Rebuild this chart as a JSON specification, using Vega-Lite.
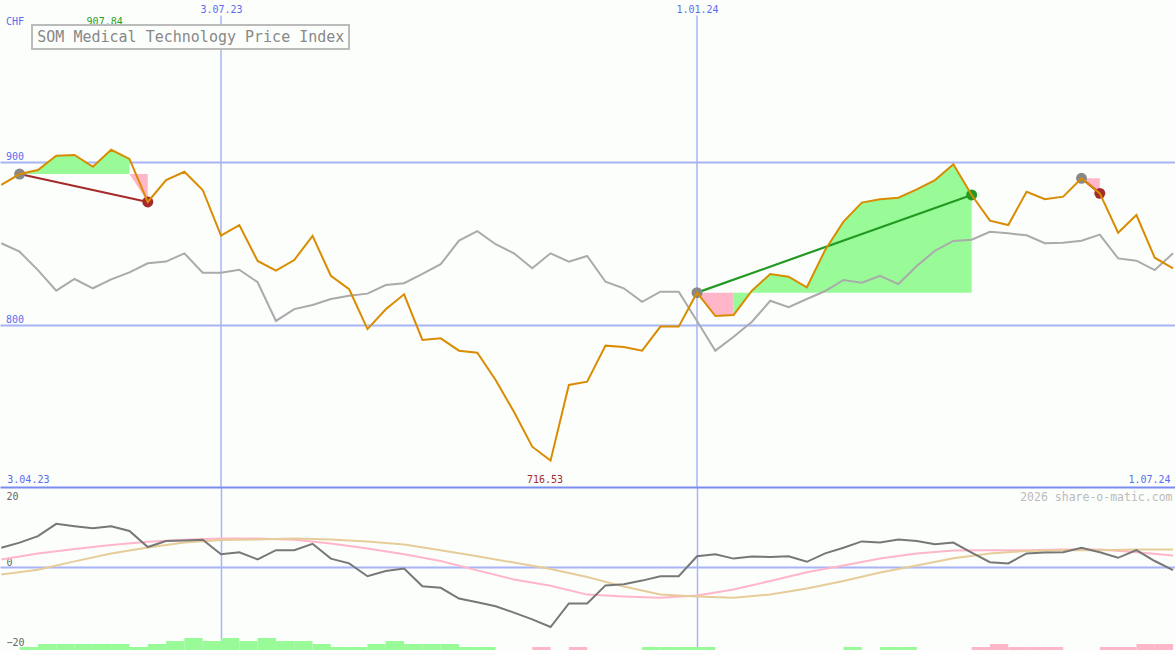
{
  "$schema": "https://vega.github.io/schema/vega-lite/v6.json",
  "autosize": {"type": "pad"},
  "padding": {"left": -3, "top": 0, "right": 0, "bottom": 0},
  "background": "#fcfefc",
  "spacing": 0,
  "bounds": "flush",
  "config": {
    "view": {"stroke": null},
    "axis": {"labelFont": "DejaVu Sans Mono", "titleFont": "DejaVu Sans Mono"},
    "text": {"font": "DejaVu Sans Mono"}
  },
  "datasets": {
    "w": [
      {"d": "2023-04-10", "p": 886.2, "c": 850.3, "o": 4.8},
      {"d": "2023-04-17", "p": 892.9, "c": 845.1, "o": 6.1},
      {"d": "2023-04-24", "p": 895.4, "c": 833.8, "o": 7.7},
      {"d": "2023-05-01", "p": 904.2, "c": 821.1, "o": 10.8},
      {"d": "2023-05-08", "p": 904.6, "c": 828.3, "o": 10.2},
      {"d": "2023-05-15", "p": 897.4, "c": 822.6, "o": 9.7},
      {"d": "2023-05-22", "p": 907.84, "c": 828.1, "o": 10.2},
      {"d": "2023-05-29", "p": 902.2, "c": 832.4, "o": 9.0},
      {"d": "2023-06-05", "p": 875.7, "c": 838.0, "o": 5.0},
      {"d": "2023-06-12", "p": 889.2, "c": 839.0, "o": 6.5},
      {"d": "2023-06-19", "p": 894.3, "c": 844.1, "o": 6.6},
      {"d": "2023-06-26", "p": 883.1, "c": 832.2, "o": 6.8},
      {"d": "2023-07-03", "p": 855.0, "c": 832.2, "o": 3.2},
      {"d": "2023-07-10", "p": 861.5, "c": 834.0, "o": 3.7},
      {"d": "2023-07-17", "p": 839.4, "c": 826.3, "o": 1.9},
      {"d": "2023-07-24", "p": 833.4, "c": 802.5, "o": 4.2},
      {"d": "2023-07-31", "p": 840.0, "c": 809.8, "o": 4.2},
      {"d": "2023-08-07", "p": 854.8, "c": 812.3, "o": 5.8},
      {"d": "2023-08-14", "p": 830.3, "c": 816.0, "o": 2.1},
      {"d": "2023-08-21", "p": 822.0, "c": 818.0, "o": 0.9},
      {"d": "2023-08-28", "p": 797.5, "c": 819.3, "o": -2.3},
      {"d": "2023-09-04", "p": 809.7, "c": 824.6, "o": -1.0},
      {"d": "2023-09-11", "p": 818.9, "c": 825.7, "o": -0.4},
      {"d": "2023-09-18", "p": 790.8, "c": 831.4, "o": -4.8},
      {"d": "2023-09-25", "p": 791.8, "c": 837.4, "o": -5.2},
      {"d": "2023-10-02", "p": 784.2, "c": 851.9, "o": -7.9},
      {"d": "2023-10-09", "p": 782.9, "c": 857.8, "o": -8.8},
      {"d": "2023-10-16", "p": 766.2, "c": 849.7, "o": -9.8},
      {"d": "2023-10-23", "p": 746.6, "c": 844.1, "o": -11.4},
      {"d": "2023-10-30", "p": 725.1, "c": 834.9, "o": -13.1},
      {"d": "2023-11-06", "p": 716.53, "c": 844.1, "o": -15.0},
      {"d": "2023-11-13", "p": 763.1, "c": 839.0, "o": -9.1},
      {"d": "2023-11-20", "p": 765.1, "c": 842.5, "o": -9.1},
      {"d": "2023-11-27", "p": 787.3, "c": 826.6, "o": -4.6},
      {"d": "2023-12-04", "p": 786.5, "c": 822.6, "o": -4.3},
      {"d": "2023-12-11", "p": 784.2, "c": 814.3, "o": -3.4},
      {"d": "2023-12-18", "p": 799.0, "c": 820.5, "o": -2.3},
      {"d": "2023-12-25", "p": 799.0, "c": 820.5, "o": -2.3},
      {"d": "2024-01-01", "p": 819.9, "c": 802.5, "o": 2.7},
      {"d": "2024-01-08", "p": 805.5, "c": 784.2, "o": 3.2},
      {"d": "2024-01-15", "p": 806.2, "c": 792.8, "o": 2.1},
      {"d": "2024-01-22", "p": 821.1, "c": 802.0, "o": 2.6},
      {"d": "2024-01-29", "p": 831.4, "c": 814.9, "o": 2.5},
      {"d": "2024-02-05", "p": 829.7, "c": 810.9, "o": 2.7},
      {"d": "2024-02-12", "p": 823.2, "c": 816.0, "o": 1.3},
      {"d": "2024-02-19", "p": 846.2, "c": 820.9, "o": 3.4},
      {"d": "2024-02-26", "p": 863.6, "c": 827.7, "o": 4.8},
      {"d": "2024-03-04", "p": 875.3, "c": 826.0, "o": 6.4},
      {"d": "2024-03-11", "p": 877.4, "c": 830.2, "o": 6.1},
      {"d": "2024-03-18", "p": 878.3, "c": 825.2, "o": 6.9},
      {"d": "2024-03-25", "p": 883.5, "c": 836.3, "o": 6.5},
      {"d": "2024-04-01", "p": 889.2, "c": 845.7, "o": 5.7},
      {"d": "2024-04-08", "p": 898.9, "c": 851.7, "o": 6.1},
      {"d": "2024-04-15", "p": 880.0, "c": 852.5, "o": 3.6},
      {"d": "2024-04-22", "p": 864.2, "c": 857.4, "o": 1.2},
      {"d": "2024-04-29", "p": 861.5, "c": 856.4, "o": 0.9},
      {"d": "2024-05-06", "p": 882.0, "c": 855.2, "o": 3.4},
      {"d": "2024-05-13", "p": 877.4, "c": 850.3, "o": 3.6},
      {"d": "2024-05-20", "p": 879.0, "c": 850.6, "o": 3.7},
      {"d": "2024-05-27", "p": 890.3, "c": 851.9, "o": 4.8},
      {"d": "2024-06-03", "p": 881.0, "c": 855.6, "o": 3.7},
      {"d": "2024-06-10", "p": 856.8, "c": 841.0, "o": 2.3},
      {"d": "2024-06-17", "p": 867.7, "c": 839.6, "o": 4.2},
      {"d": "2024-06-24", "p": 841.4, "c": 833.8, "o": 1.5},
      {"d": "2024-07-01", "p": 834.9, "c": 844.1, "o": -0.8}
    ],
    "smooth": [
      {"d": "2023-04-10", "pk": 1.9, "tn": -1.85},
      {"d": "2023-04-24", "pk": 3.4, "tn": -0.7},
      {"d": "2023-05-08", "pk": 4.5, "tn": 1.4},
      {"d": "2023-05-22", "pk": 5.5, "tn": 3.4},
      {"d": "2023-06-05", "pk": 6.3, "tn": 4.9},
      {"d": "2023-06-19", "pk": 6.8, "tn": 6.1},
      {"d": "2023-07-03", "pk": 7.15, "tn": 6.75},
      {"d": "2023-07-17", "pk": 7.1, "tn": 6.9},
      {"d": "2023-07-31", "pk": 6.8, "tn": 7.1},
      {"d": "2023-08-14", "pk": 5.9, "tn": 6.9},
      {"d": "2023-08-28", "pk": 4.6, "tn": 6.4},
      {"d": "2023-09-11", "pk": 3.2, "tn": 5.6},
      {"d": "2023-09-25", "pk": 1.5, "tn": 4.2},
      {"d": "2023-10-09", "pk": -0.85, "tn": 2.7},
      {"d": "2023-10-23", "pk": -3.1, "tn": 1.1},
      {"d": "2023-11-06", "pk": -4.7, "tn": -0.5},
      {"d": "2023-11-20", "pk": -6.9, "tn": -2.5},
      {"d": "2023-12-04", "pk": -7.4, "tn": -4.9},
      {"d": "2023-12-18", "pk": -7.7, "tn": -6.9},
      {"d": "2024-01-01", "pk": -7.1, "tn": -7.4},
      {"d": "2024-01-15", "pk": -5.6, "tn": -7.7},
      {"d": "2024-01-29", "pk": -3.5, "tn": -6.85},
      {"d": "2024-02-12", "pk": -1.3, "tn": -5.4},
      {"d": "2024-02-26", "pk": 0.4, "tn": -3.5},
      {"d": "2024-03-11", "pk": 2.1, "tn": -1.4},
      {"d": "2024-03-25", "pk": 3.4, "tn": 0.4},
      {"d": "2024-04-08", "pk": 4.15, "tn": 2.2},
      {"d": "2024-04-22", "pk": 4.2, "tn": 3.4},
      {"d": "2024-05-06", "pk": 4.2, "tn": 4.0},
      {"d": "2024-05-20", "pk": 4.4, "tn": 4.2},
      {"d": "2024-06-03", "pk": 4.4, "tn": 4.2},
      {"d": "2024-06-17", "pk": 3.7, "tn": 4.4},
      {"d": "2024-07-01", "pk": 2.9, "tn": 4.4}
    ],
    "fills": [
      {"d": "2023-04-17", "p": 892.9, "b": 892.9, "g": "t1a", "k": "gain"},
      {"d": "2023-04-24", "p": 895.4, "b": 892.9, "g": "t1a", "k": "gain"},
      {"d": "2023-05-01", "p": 904.2, "b": 892.9, "g": "t1a", "k": "gain"},
      {"d": "2023-05-08", "p": 904.6, "b": 892.9, "g": "t1a", "k": "gain"},
      {"d": "2023-05-15", "p": 897.4, "b": 892.9, "g": "t1a", "k": "gain"},
      {"d": "2023-05-22", "p": 907.84, "b": 892.9, "g": "t1a", "k": "gain"},
      {"d": "2023-05-29", "p": 902.2, "b": 892.9, "g": "t1a", "k": "gain"},
      {"d": "2023-05-29", "p": 892.9, "b": 892.9, "g": "t1b", "k": "loss"},
      {"d": "2023-06-05", "p": 875.7, "b": 892.9, "g": "t1b", "k": "loss"},
      {"d": "2024-01-01", "p": 819.9, "b": 819.9, "g": "t2a", "k": "loss"},
      {"d": "2024-01-08", "p": 805.5, "b": 819.9, "g": "t2a", "k": "loss"},
      {"d": "2024-01-15", "p": 806.2, "b": 819.9, "g": "t2a", "k": "loss"},
      {"d": "2024-01-15", "p": 806.2, "b": 819.9, "g": "t2b", "k": "gain"},
      {"d": "2024-01-22", "p": 821.1, "b": 819.9, "g": "t2b", "k": "gain"},
      {"d": "2024-01-29", "p": 831.4, "b": 819.9, "g": "t2b", "k": "gain"},
      {"d": "2024-02-05", "p": 829.7, "b": 819.9, "g": "t2b", "k": "gain"},
      {"d": "2024-02-12", "p": 823.2, "b": 819.9, "g": "t2b", "k": "gain"},
      {"d": "2024-02-19", "p": 846.2, "b": 819.9, "g": "t2b", "k": "gain"},
      {"d": "2024-02-26", "p": 863.6, "b": 819.9, "g": "t2b", "k": "gain"},
      {"d": "2024-03-04", "p": 875.3, "b": 819.9, "g": "t2b", "k": "gain"},
      {"d": "2024-03-11", "p": 877.4, "b": 819.9, "g": "t2b", "k": "gain"},
      {"d": "2024-03-18", "p": 878.3, "b": 819.9, "g": "t2b", "k": "gain"},
      {"d": "2024-03-25", "p": 883.5, "b": 819.9, "g": "t2b", "k": "gain"},
      {"d": "2024-04-01", "p": 889.2, "b": 819.9, "g": "t2b", "k": "gain"},
      {"d": "2024-04-08", "p": 898.9, "b": 819.9, "g": "t2b", "k": "gain"},
      {"d": "2024-04-15", "p": 880.0, "b": 819.9, "g": "t2b", "k": "gain"},
      {"d": "2024-05-27", "p": 890.3, "b": 890.3, "g": "t3a", "k": "loss"},
      {"d": "2024-06-03", "p": 881.0, "b": 890.3, "g": "t3a", "k": "loss"}
    ],
    "trades": [
      {"d": "2023-04-17", "p": 892.9, "d2": "2023-06-05", "p2": 875.7, "r": "loss"},
      {"d": "2024-01-01", "p": 819.9, "d2": "2024-04-15", "p2": 880.0, "r": "gain"},
      {"d": "2024-05-27", "p": 890.3, "d2": "2024-06-03", "p2": 881.0, "r": "loss"}
    ],
    "bars": [
      {"d": "2023-04-17", "e": "2023-04-24", "v": 1, "k": "g"},
      {"d": "2023-04-24", "e": "2023-05-01", "v": 2, "k": "g"},
      {"d": "2023-05-01", "e": "2023-05-08", "v": 2, "k": "g"},
      {"d": "2023-05-08", "e": "2023-05-15", "v": 2, "k": "g"},
      {"d": "2023-05-15", "e": "2023-05-22", "v": 2, "k": "g"},
      {"d": "2023-05-22", "e": "2023-05-29", "v": 2, "k": "g"},
      {"d": "2023-05-29", "e": "2023-06-05", "v": 1, "k": "g"},
      {"d": "2023-06-05", "e": "2023-06-12", "v": 2, "k": "g"},
      {"d": "2023-06-12", "e": "2023-06-19", "v": 3, "k": "g"},
      {"d": "2023-06-19", "e": "2023-06-26", "v": 4, "k": "g"},
      {"d": "2023-06-26", "e": "2023-07-03", "v": 3, "k": "g"},
      {"d": "2023-07-03", "e": "2023-07-10", "v": 4, "k": "g"},
      {"d": "2023-07-10", "e": "2023-07-17", "v": 3, "k": "g"},
      {"d": "2023-07-17", "e": "2023-07-24", "v": 4, "k": "g"},
      {"d": "2023-07-24", "e": "2023-07-31", "v": 3, "k": "g"},
      {"d": "2023-07-31", "e": "2023-08-07", "v": 3, "k": "g"},
      {"d": "2023-08-07", "e": "2023-08-14", "v": 2, "k": "g"},
      {"d": "2023-08-14", "e": "2023-08-21", "v": 1, "k": "g"},
      {"d": "2023-08-21", "e": "2023-08-28", "v": 1, "k": "g"},
      {"d": "2023-08-28", "e": "2023-09-04", "v": 2, "k": "g"},
      {"d": "2023-09-04", "e": "2023-09-11", "v": 3, "k": "g"},
      {"d": "2023-09-11", "e": "2023-09-18", "v": 2, "k": "g"},
      {"d": "2023-09-18", "e": "2023-09-25", "v": 2, "k": "g"},
      {"d": "2023-09-25", "e": "2023-10-02", "v": 2, "k": "g"},
      {"d": "2023-10-02", "e": "2023-10-09", "v": 1, "k": "g"},
      {"d": "2023-10-09", "e": "2023-10-16", "v": 1, "k": "g"},
      {"d": "2023-10-30", "e": "2023-11-06", "v": 1, "k": "p"},
      {"d": "2023-11-13", "e": "2023-11-20", "v": 1, "k": "p"},
      {"d": "2023-12-11", "e": "2023-12-18", "v": 1, "k": "g"},
      {"d": "2023-12-18", "e": "2023-12-25", "v": 1, "k": "g"},
      {"d": "2023-12-25", "e": "2024-01-01", "v": 1, "k": "g"},
      {"d": "2024-01-01", "e": "2024-01-08", "v": 1, "k": "g"},
      {"d": "2024-02-26", "e": "2024-03-04", "v": 1, "k": "g"},
      {"d": "2024-03-11", "e": "2024-03-18", "v": 1, "k": "g"},
      {"d": "2024-03-18", "e": "2024-03-25", "v": 1, "k": "g"},
      {"d": "2024-04-15", "e": "2024-04-22", "v": 1, "k": "p"},
      {"d": "2024-04-22", "e": "2024-04-29", "v": 2, "k": "p"},
      {"d": "2024-04-29", "e": "2024-05-06", "v": 1, "k": "p"},
      {"d": "2024-05-06", "e": "2024-05-13", "v": 1, "k": "p"},
      {"d": "2024-05-13", "e": "2024-05-20", "v": 1, "k": "p"},
      {"d": "2024-06-03", "e": "2024-06-10", "v": 1, "k": "p"},
      {"d": "2024-06-10", "e": "2024-06-17", "v": 1, "k": "p"},
      {"d": "2024-06-17", "e": "2024-06-24", "v": 2, "k": "p"},
      {"d": "2024-06-24", "e": "2024-07-01", "v": 2, "k": "p"}
    ],
    "ext": [
      {"d": "2023-05-22", "p": 907.84, "k": "max", "t": "907.84"},
      {"d": "2023-11-06", "p": 716.53, "k": "min", "t": "716.53"},
      {"d": "2023-04-10", "p": 886.2, "k": "s", "t": "3.04.23"},
      {"d": "2024-07-01", "p": 834.9, "k": "e", "t": "1.07.24"}
    ]
  },
  "vconcat": [
    {
      "width": 1175,
      "height": 487,
      "encoding": {
        "x": {
          "field": "d", "type": "temporal",
          "scale": {"type": "utc", "nice": false, "domain": [
            {"year": 2023, "month": 4, "date": 9, "hours": 12, "utc": true},
            {"year": 2024, "month": 7, "date": 1, "hours": 18, "utc": true}]},
          "axis": {
            "orient": "top",
            "values": [{"year": 2023, "month": 7, "date": 3, "utc": true}, {"year": 2024, "month": 1, "date": 1, "utc": true}],
            "labelExpr": "utcFormat(datum.value, '%-d.%m.%y')",
            "grid": false, "domain": false, "ticks": false, "tickSize": 0,
            "labelPadding": -12.7, "labelBaseline": "alphabetic",
            "labelColor": "#5a6df0", "labelFontSize": 10,
            "labelFlush": false, "labelOverlap": false, "labelBound": false,
            "title": null
          }
        },
        "y": {
          "field": "p", "type": "quantitative",
          "scale": {"domain": [700.3, 1000], "zero": false, "nice": false},
          "axis": {
            "orient": "left", "values": [800, 900],
            "grid": true, "gridColor": "#a8b4f4", "gridWidth": 2,
            "domain": false, "ticks": false, "tickSize": 0,
            "labelAlign": "left", "labelBaseline": "alphabetic", "labelPadding": -5.5, "labelOffset": -2.5,
            "labelColor": "#5a6df0", "labelFontSize": 10, "labelBound": false, "labelFlush": false,
            "title": "CHF", "titleAngle": 0, "titleX": 5.5, "titleY": 24.7,
            "titleAlign": "left", "titleBaseline": "alphabetic",
            "titleColor": "#5a6df0", "titleFontSize": 10, "titleFontWeight": "normal"
          }
        }
      },
      "layer": [
        {
          "data": {"name": "w"},
          "transform": [{"filter": "utcmonth(datum.d) == 6 && utcdate(datum.d) == 3 || utcmonth(datum.d) == 0 && utcdate(datum.d) == 1"}],
          "mark": {"type": "rule", "color": "#a8b4f4", "strokeWidth": 1.5},
          "encoding": {
            "y": {"datum": 990.5, "type": "quantitative", "scale": {"domain": [700.3, 1000], "zero": false, "nice": false}},
            "y2": {"datum": 700.3}
          }
        },
        {
          "data": {"name": "fills"},
          "transform": [{"filter": "datum.k == 'gain'"}],
          "mark": {"type": "area", "color": "#98fb98", "opacity": 1},
          "encoding": {"y2": {"field": "b"}, "detail": {"field": "g"}}
        },
        {
          "data": {"name": "fills"},
          "transform": [{"filter": "datum.k == 'loss'"}],
          "mark": {"type": "area", "color": "#ffb6c8", "opacity": 1},
          "encoding": {"y2": {"field": "b"}, "detail": {"field": "g"}}
        },
        {
          "data": {"name": "w"},
          "mark": {"type": "line", "color": "#aaaaaa", "strokeWidth": 2},
          "encoding": {"y": {"field": "c", "type": "quantitative", "scale": {"domain": [700.3, 1000], "zero": false, "nice": false}}}
        },
        {
          "data": {"name": "trades"},
          "transform": [{"filter": "datum.r == 'loss'"}],
          "mark": {"type": "rule", "color": "#a52a2a", "strokeWidth": 2.2},
          "encoding": {"x2": {"field": "d2"}, "y2": {"field": "p2"}}
        },
        {
          "data": {"name": "trades"},
          "transform": [{"filter": "datum.r == 'gain'"}],
          "mark": {"type": "rule", "color": "#229a22", "strokeWidth": 2.2},
          "encoding": {"x2": {"field": "d2"}, "y2": {"field": "p2"}}
        },
        {
          "data": {"name": "trades"},
          "mark": {"type": "point", "filled": true, "color": "#888888", "opacity": 1, "size": 120},
          "encoding": {}
        },
        {
          "data": {"name": "trades"},
          "transform": [{"filter": "datum.r == 'loss'"}],
          "mark": {"type": "point", "filled": true, "color": "#a52a2a", "opacity": 1, "size": 120},
          "encoding": {
            "x": {"field": "d2", "type": "temporal"},
            "y": {"field": "p2", "type": "quantitative", "scale": {"domain": [700.3, 1000], "zero": false, "nice": false}}
          }
        },
        {
          "data": {"name": "trades"},
          "transform": [{"filter": "datum.r == 'gain'"}],
          "mark": {"type": "point", "filled": true, "color": "#229a22", "opacity": 1, "size": 120},
          "encoding": {
            "x": {"field": "d2", "type": "temporal"},
            "y": {"field": "p2", "type": "quantitative", "scale": {"domain": [700.3, 1000], "zero": false, "nice": false}}
          }
        },
        {
          "data": {"name": "w"},
          "mark": {"type": "line", "strokeWidth": 2},
          "encoding": {
            "color": {
              "datum": "SOM Medical Technology Price Index", "type": "nominal",
              "scale": {"range": ["#d98c00"]},
              "legend": {
                "orient": "none", "legendX": 32, "legendY": 25, "title": null,
                "padding": 4, "strokeColor": "#bbbbbb", "fillColor": "#fcfefc",
                "symbolSize": 0, "symbolOpacity": 0, "symbolStrokeWidth": 0,
                "labelOffset": -13.7, "labelFont": "DejaVu Sans Mono", "labelFontSize": 15,
                "labelColor": "#888888", "labelLimit": 600,
                "encode": {"legend": {"update": {"strokeWidth": {"value": 2}}}}
              }
            }
          }
        },
        {
          "data": {"name": "ext"},
          "transform": [{"filter": "datum.k == 'max'"}],
          "mark": {"type": "text", "color": "#26a026", "fontSize": 10, "dx": -6.5, "align": "center", "baseline": "alphabetic"},
          "encoding": {
            "y": {"datum": 984.8, "type": "quantitative", "scale": {"domain": [700.3, 1000], "zero": false, "nice": false}},
            "text": {"field": "p", "type": "quantitative", "format": ".2f"}
          }
        },
        {
          "data": {"name": "ext"},
          "transform": [{"filter": "datum.k == 'min'"}],
          "mark": {"type": "text", "color": "#a52a2a", "fontSize": 10, "dx": -5.5, "align": "center", "baseline": "alphabetic"},
          "encoding": {
            "y": {"datum": 702.6, "type": "quantitative", "scale": {"domain": [700.3, 1000], "zero": false, "nice": false}},
            "text": {"field": "p", "type": "quantitative", "format": ".2f"}
          }
        },
        {
          "data": {"name": "ext"},
          "transform": [{"filter": "datum.k == 's'"}],
          "mark": {"type": "text", "color": "#5a6df0", "fontSize": 10, "dx": 6, "align": "left", "baseline": "alphabetic"},
          "encoding": {
            "y": {"datum": 702.6, "type": "quantitative", "scale": {"domain": [700.3, 1000], "zero": false, "nice": false}},
            "text": {"field": "t", "type": "nominal"}
          }
        },
        {
          "data": {"name": "ext"},
          "transform": [{"filter": "datum.k == 'e'"}],
          "mark": {"type": "text", "color": "#5a6df0", "fontSize": 10, "dx": -2.5, "align": "right", "baseline": "alphabetic"},
          "encoding": {
            "y": {"datum": 702.6, "type": "quantitative", "scale": {"domain": [700.3, 1000], "zero": false, "nice": false}},
            "text": {"field": "t", "type": "nominal"}
          }
        }
      ]
    },
    {
      "width": 1175,
      "height": 163,
      "encoding": {
        "x": {
          "field": "d", "type": "temporal",
          "scale": {"type": "utc", "nice": false, "domain": [
            {"year": 2023, "month": 4, "date": 9, "hours": 12, "utc": true},
            {"year": 2024, "month": 7, "date": 1, "hours": 18, "utc": true}]},
          "axis": {
            "orient": "top",
            "values": [{"year": 2023, "month": 7, "date": 3, "utc": true}, {"year": 2024, "month": 1, "date": 1, "utc": true}],
            "grid": true, "gridColor": "#a8b4f4", "gridWidth": 1.5,
            "labels": false, "ticks": false, "tickSize": 0,
            "domain": true, "domainColor": "#7a8cf0", "domainWidth": 2,
            "title": null
          }
        }
      },
      "resolve": {"scale": {"y": "independent"}},
      "layer": [
        {
          "data": {"name": "bars"},
          "layer": [
            {
              "transform": [{"filter": "datum.k == 'g'"}],
              "mark": {"type": "rect", "color": "#98fb98"},
              "encoding": {
                "x2": {"field": "e"},
                "y": {"field": "v", "type": "quantitative", "scale": {"domain": [0, 54.333], "zero": false, "nice": false}, "axis": null},
                "y2": {"datum": 0}
              }
            },
            {
              "transform": [{"filter": "datum.k == 'p'"}],
              "mark": {"type": "rect", "color": "#ffb6c8"},
              "encoding": {
                "x2": {"field": "e"},
                "y": {"field": "v", "type": "quantitative", "scale": {"domain": [0, 54.333], "zero": false, "nice": false}, "axis": null},
                "y2": {"datum": 0}
              }
            }
          ]
        },
        {
          "layer": [
            {
              "data": {"name": "smooth"},
              "mark": {"type": "line", "color": "#ffb6c8", "strokeWidth": 2},
              "encoding": {
                "y": {
                  "field": "pk", "type": "quantitative",
                  "scale": {"domain": [-20.75, 20], "zero": false, "nice": false},
                  "axis": {
                    "orient": "left", "values": [-20, 0, 20],
                    "grid": true, "gridColor": "#a8b4f4", "gridWidth": 2,
                    "gridOpacity": {"condition": {"test": "datum.value == 0", "value": 1}, "value": 0},
                    "domain": false, "ticks": false, "tickSize": 0,
                    "labelAlign": "left", "labelBaseline": "alphabetic", "labelPadding": -6,
                    "labelOffset": {"condition": {"test": "datum.value == 20", "value": 12.3}, "value": -2},
                    "labelColor": "#666666", "labelFontSize": 10, "labelBound": false, "labelFlush": false,
                    "title": "2026 share-o-matic.com", "titleAngle": 0, "titleX": 1172, "titleY": 13,
                    "titleAlign": "right", "titleBaseline": "alphabetic",
                    "titleColor": "#bbbbbb", "titleFontSize": 11.5, "titleFontWeight": "normal"
                  }
                }
              }
            },
            {
              "data": {"name": "smooth"},
              "mark": {"type": "line", "color": "#e6cc99", "strokeWidth": 2},
              "encoding": {
                "y": {"field": "tn", "type": "quantitative", "scale": {"domain": [-20.75, 20], "zero": false, "nice": false}}
              }
            },
            {
              "data": {"name": "w"},
              "mark": {"type": "line", "color": "#777777", "strokeWidth": 2},
              "encoding": {
                "y": {"field": "o", "type": "quantitative", "scale": {"domain": [-20.75, 20], "zero": false, "nice": false}}
              }
            }
          ]
        }
      ]
    }
  ]
}
